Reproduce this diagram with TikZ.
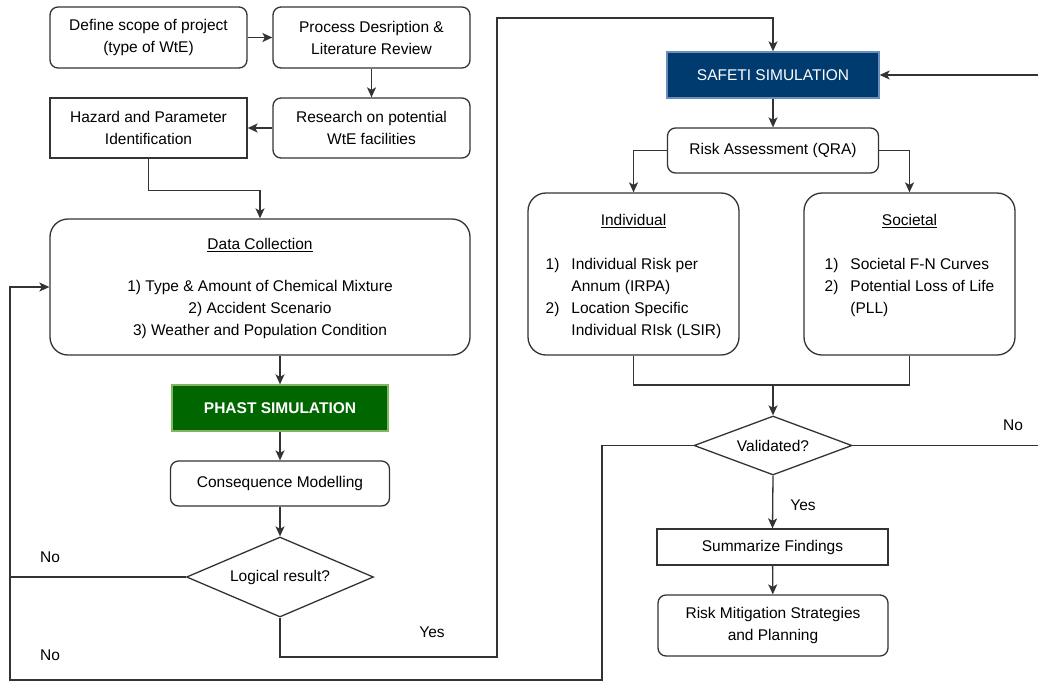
\documentclass[tikz,border=0pt]{standalone}
\usepackage{fontspec}
\setmainfont{Liberation Sans}
\usetikzlibrary{positioning}
\usetikzlibrary{arrows.meta, shapes.geometric}

\definecolor{phastgreen}{RGB}{0,102,0}
\definecolor{phastedge}{RGB}{130,179,102}
\definecolor{safetiblue}{RGB}{0,59,112}
\definecolor{safetiedge}{RGB}{108,142,191}
\definecolor{edgegray}{RGB}{51,51,51}

\begin{document}
\begin{tikzpicture}[x=1pt, y=-1pt,
        font=\fontsize{15.5}{22}\selectfont,
        line/.style={draw=edgegray, line width=1.3pt},
        arr/.style={line, -{Stealth[length=10pt, width=9pt, inset=2.5pt]}},
        box/.style={line, rounded corners=8pt, align=center, inner sep=2pt},
        bigbox/.style={line, rounded corners=18pt, align=center, inner sep=2pt},
        sqbox/.style={line, align=center, inner sep=2pt},
        decision/.style={line, diamond, inner sep=0pt, align=center},
        lbl/.style={inner sep=0pt}]
        \useasboundingbox (0, 0) rectangle (1038, 681);

        % Left column: project set-up
        \node[box, minimum width=197pt, minimum height=61pt] (scope) at (148.5, 37.5) {Define scope of project\\(type of WtE)};
        \node[box, minimum width=197pt, minimum height=61pt] (process) at (371.5, 37.5) {Process Desription \&\\Literature Review};
        \node[box, minimum width=197pt, minimum height=60pt] (research) at (371.5, 128) {Research on potential\\WtE facilities};
        \node[sqbox, minimum width=197pt, minimum height=60pt] (hazard) at (148.5, 128) {Hazard and Parameter\\Identification};

        % Data collection
        \node[bigbox, minimum width=420pt, minimum height=136pt] (data) at (260, 287) {\rule{0pt}{15pt}\underline{Data Collection}\\[20pt]1) Type \& Amount of Chemical Mixture\\2) Accident Scenario\\3) Weather and Population Condition};

        % PHAST branch
        \node[draw=phastedge, line width=1.3pt, fill=phastgreen, text=white, font=\fontsize{15.5}{22}\selectfont\bfseries, minimum width=216pt, minimum height=46pt] (phast) at (280, 408) {PHAST SIMULATION};
        \node[box, minimum width=219pt, minimum height=45pt] (conseq) at (280, 483.5) {Consequence Modelling};
        \node[decision, minimum width=187pt, minimum height=80pt, aspect=2.34] (logic) at (280, 577) {Logical result?};

        % SAFETI branch
        \node[draw=safetiedge, line width=1.3pt, fill=safetiblue, text=white, minimum width=212pt, minimum height=46pt] (safeti) at (773, 75) {SAFETI SIMULATION};
        \node[box, minimum width=211pt, minimum height=45pt] (risk) at (773, 150.5) {Risk Assessment (QRA)};

        \node[bigbox, minimum width=211pt, minimum height=162pt] (indiv) at (633.5, 274) {\rule{0pt}{20pt}\underline{Individual}\\[25pt]%
            \begin{tabular}{@{}l@{\hspace{12pt}}l@{}}
            1) & Individual Risk per\\
               & Annum (IRPA)\\
            2) & Location Specific\\
               & Individual RIsk (LSIR)
            \end{tabular}};
        \node[bigbox, minimum width=211pt, minimum height=162pt] (soc) at (909.5, 274) {\rule{0pt}{20pt}\underline{Societal}\\[25pt]%
            \begin{tabular}{@{}l@{\hspace{12pt}}l@{}}
            1) & Societal F-N Curves\\
            2) & Potential Loss of Life\\
               & (PLL)\\
               &
            \end{tabular}};

        \node[decision, minimum width=158pt, minimum height=59pt, aspect=2.68] (valid) at (773, 445.5) {Validated?};
        \node[sqbox, minimum width=231pt, minimum height=36pt] (summ) at (772.5, 547) {Summarize Findings};
        \node[box, minimum width=230pt, minimum height=61pt] (mitig) at (773, 625.5) {Risk Mitigation Strategies\\and Planning};

        % Rails for the loops
        \coordinate (lrail) at (10, 680);
        \coordinate (mrail) at (602, 680);
        \coordinate (yesrail) at (497, 657);
        \coordinate (toprail) at (497, 18);
        \coordinate (merge) at (773, 385);
        \coordinate (rrail) at (1050, 445.5);

        % Connectors, left column
        \draw[arr] (scope) -- (process);
        \draw[arr] (process) -- (research);
        \draw[arr] (research) -- (hazard);
        \draw[arr] (hazard.south) -- ++(0, 32) -| (data.north);
        \draw[arr] (phast.north |- data.south) -- (phast.north);
        \draw[arr] (phast) -- (conseq);
        \draw[arr] (conseq) -- (logic);

        % No: back to data collection
        \draw[line] (logic.west) -- (logic.west -| lrail);
        \draw[arr] (valid.west) -| (mrail) -- (lrail) |- (data.west);

        % Yes: on to SAFETI
        \draw[arr] (logic.south) |- (yesrail) -- (toprail) -| (safeti.north);

        % Connectors, right column
        \draw[arr] (safeti) -- (risk);
        \draw[arr] (risk.west) -| (indiv.north);
        \draw[arr] (risk.east) -| (soc.north);
        \draw[line] (indiv.south) |- (merge) -| (soc.south);
        \draw[arr] (merge) -- (valid.north);
        \draw[arr] (valid.south) -- (summ.north);
        \draw[arr] (summ) -- (mitig);
        \draw[arr] (valid.east) -- (rrail) |- (safeti.east);

        % Branch labels
        \node[lbl] (nologic) at (50, 557) {No};
        \node[lbl] (novalidl) at (50, 655) {No};
        \node[lbl] (yeslogic) at (432, 632) {Yes};
        \node[lbl] (yesvalid) at (803, 505) {Yes};
        \node[lbl] (novalidr) at (1013, 425) {No};

\end{tikzpicture}
\end{document}
